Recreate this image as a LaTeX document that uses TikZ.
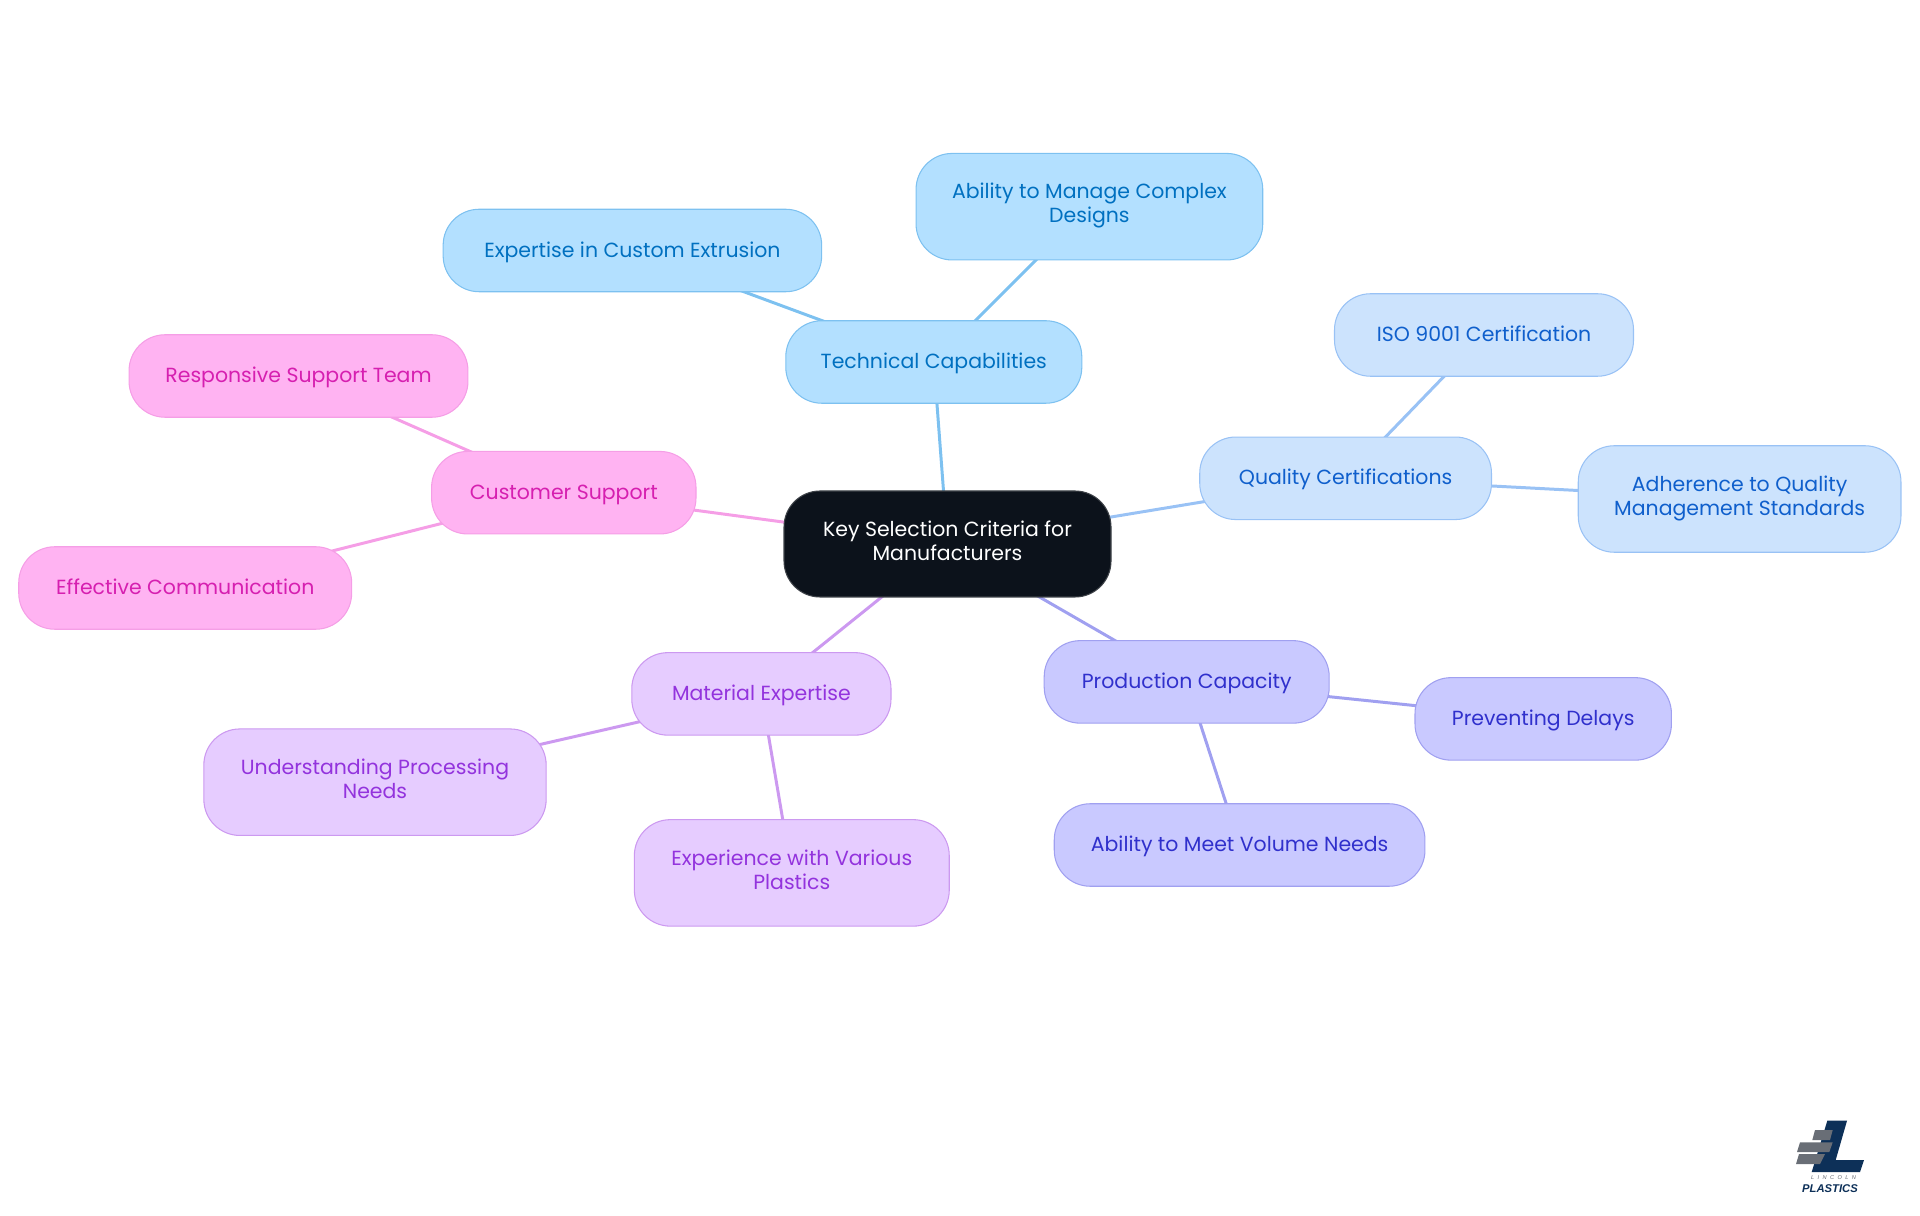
\documentclass[tikz,border=0pt]{standalone}
\usepackage{fontspec}
\setmainfont{Poppins}
\newfontfamily\logofont[LetterSpace=0]{Liberation Sans}
\newfontfamily\logowide[LetterSpace=60]{Liberation Sans}
\usepackage{tikz}
\usetikzlibrary{backgrounds}
\definecolor{rootfill}{RGB}{12,18,27}
\definecolor{rootline}{RGB}{62,66,72}
\definecolor{techfill}{RGB}{179,224,255}
\definecolor{techline}{RGB}{125,193,240}
\definecolor{techtext}{RGB}{0,112,192}
\definecolor{qualfill}{RGB}{204,227,253}
\definecolor{qualline}{RGB}{153,194,245}
\definecolor{qualtext}{RGB}{15,95,204}
\definecolor{prodfill}{RGB}{201,201,255}
\definecolor{prodline}{RGB}{160,160,240}
\definecolor{prodtext}{RGB}{48,48,204}
\definecolor{matfill}{RGB}{230,204,255}
\definecolor{matline}{RGB}{204,153,240}
\definecolor{mattext}{RGB}{147,51,221}
\definecolor{custfill}{RGB}{255,179,242}
\definecolor{custline}{RGB}{245,158,230}
\definecolor{custtext}{RGB}{214,31,176}
\definecolor{logonavy}{RGB}{13,48,88}
\definecolor{logogray}{RGB}{105,110,118}

\begin{document}
\begin{tikzpicture}[
    box/.style={rectangle, rounded corners=0.36cm, line width=0.3pt, inner sep=0pt, align=center, minimum height=0.825cm, font=\fontsize{5.82}{6.83}\selectfont, execute at begin node={\rule{0pt}{5.8pt}}, execute at end node=\strut},
    rootbox/.style={box, fill=rootfill, draw=rootline, text=white, minimum height=1.06cm},
    techbox/.style={box, fill=techfill, draw=techline, text=techtext},
    qualbox/.style={box, fill=qualfill, draw=qualline, text=qualtext},
    prodbox/.style={box, fill=prodfill, draw=prodline, text=prodtext},
    matbox/.style={box, fill=matfill, draw=matline, text=mattext},
    custbox/.style={box, fill=custfill, draw=custline, text=custtext},
    twoline/.style={minimum height=1.065cm},
    edge/.style={line width=0.85pt}
]
    \useasboundingbox (0, 0) rectangle (19.2, 12.15);

    % Root
    \node[rootbox, minimum width=3.27cm] (root) at (9.475, 6.71) {Key Selection Criteria for\\Manufacturers};

    % Technical capabilities
    \node[techbox, minimum width=2.96cm] (tech) at (9.338, 8.53) {Technical Capabilities};
    \node[techbox, minimum width=3.785cm] (extrusion) at (6.324, 9.645) {Expertise in Custom Extrusion};
    \node[techbox, twoline, minimum width=3.467cm] (designs) at (10.894, 10.083) {Ability to Manage Complex\\Designs};

    % Quality certifications
    \node[qualbox, minimum width=2.917cm] (quality) at (13.456, 7.367) {Quality Certifications};
    \node[qualbox, minimum width=2.99cm] (iso) at (14.84, 8.80) {ISO 9001 Certification};
    \node[qualbox, twoline, minimum width=3.227cm] (standards) at (17.396, 7.16) {Adherence to Quality\\Management Standards};

    % Production capacity
    \node[prodbox, minimum width=2.85cm] (capacity) at (11.867, 5.331) {Production Capacity};
    \node[prodbox, minimum width=2.564cm] (delays) at (15.432, 4.961) {Preventing Delays};
    \node[prodbox, minimum width=3.707cm] (volume) at (12.396, 3.70) {Ability to Meet Volume Needs};

    % Material expertise
    \node[matbox, minimum width=2.592cm] (material) at (7.614, 5.211) {Material Expertise};
    \node[matbox, twoline, minimum width=3.423cm] (processing) at (3.75, 4.328) {Understanding Processing\\Needs};
    \node[matbox, twoline, minimum width=3.149cm] (plastics) at (7.918, 3.421) {Experience with Various\\Plastics};

    % Customer support
    \node[custbox, minimum width=2.644cm] (support) at (5.638, 7.223) {Customer Support};
    \node[custbox, minimum width=3.389cm] (team) at (2.985, 8.39) {Responsive Support Team};
    \node[custbox, minimum width=3.329cm] (communication) at (1.852, 6.27) {Effective Communication};

    % Branches
    \begin{scope}[on background layer]
        \draw[edge, techline] (root.center) -- (tech.center);
        \draw[edge, techline] (tech.center) -- (extrusion.center);
        \draw[edge, techline] (tech.center) -- (designs.center);
        \draw[edge, qualline] (root.center) -- (quality.center);
        \draw[edge, qualline] (quality.center) -- (iso.center);
        \draw[edge, qualline] (quality.center) -- (standards.center);
        \draw[edge, prodline] (root.center) -- (capacity.center);
        \draw[edge, prodline] (capacity.center) -- (delays.center);
        \draw[edge, prodline] (capacity.center) -- (volume.center);
        \draw[edge, matline] (root.center) -- (material.center);
        \draw[edge, matline] (material.center) -- (processing.center);
        \draw[edge, matline] (material.center) -- (plastics.center);
        \draw[edge, custline] (root.center) -- (support.center);
        \draw[edge, custline] (support.center) -- (team.center);
        \draw[edge, custline] (support.center) -- (communication.center);
    \end{scope}

    % Logo
    \fill[logonavy] (18.273, 0.943) -- (18.47, 0.943) -- (18.357, 0.55) -- (18.64, 0.55) -- (18.60, 0.43) -- (18.117, 0.43) -- cycle;
    \fill[logogray] (18.15, 0.85) -- (18.327, 0.85) -- (18.30, 0.75) -- (18.123, 0.75) -- cycle;
    \fill[logogray] (18.00, 0.727) -- (18.327, 0.727) -- (18.293, 0.63) -- (17.97, 0.63) -- cycle;
    \fill[logogray] (17.99, 0.61) -- (18.25, 0.61) -- (18.20, 0.51) -- (17.96, 0.51) -- cycle;
    \node[inner sep=0pt, text=logogray, font=\logowide\itshape\fontsize{1.6}{2}\selectfont] (lincoln) at (18.335, 0.37) {LINCOLN};
    \node[inner sep=0pt, text=logonavy, font=\logofont\bfseries\itshape\fontsize{3.2}{4}\selectfont] (plasticsmark) at (18.30, 0.26) {PLASTICS};
\end{tikzpicture}
\end{document}
